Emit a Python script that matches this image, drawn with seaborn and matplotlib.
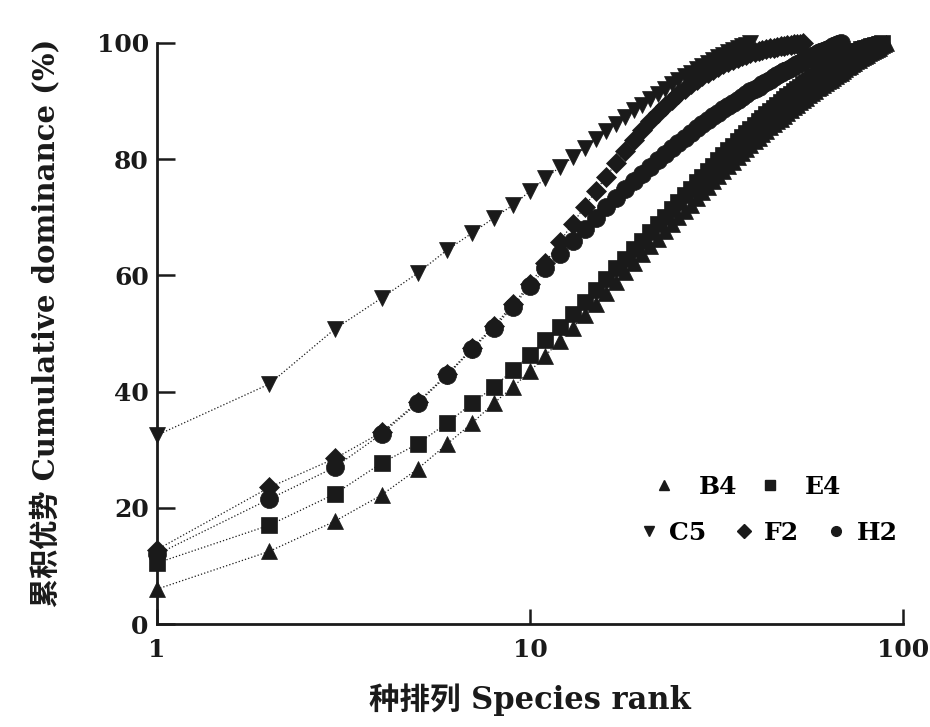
import matplotlib
matplotlib.use('Agg')
import matplotlib.pyplot as plt
from matplotlib.lines import Line2D
from matplotlib.ticker import NullLocator
import numpy as np
import pandas as pd
import seaborn as sns

# cumulative dominance (%) by species rank
b4 = [6.0, 12.5, 17.7, 22.2, 26.7, 31.0, 34.6, 38.0, 40.8, 43.5,
      46.2, 48.7, 51.0, 53.1, 55.1, 57.0, 58.8, 60.5, 62.1, 63.6,
      65.0, 66.3, 67.6, 68.8, 70.0, 71.1, 72.2, 73.3, 74.3, 75.3,
      76.2, 77.1, 78.0, 78.8, 79.6, 80.4, 81.1, 81.8, 82.5, 83.1,
      83.7, 84.3, 84.9, 85.5, 86.0, 86.5, 87.0, 87.5, 88.0, 88.5,
      89.0, 89.4, 89.8, 90.2, 90.6, 91.0, 91.4, 91.8, 92.2, 92.5,
      92.8, 93.1, 93.4, 93.7, 94.0, 94.3, 94.6, 94.9, 95.2, 95.5,
      95.8, 96.1, 96.4, 96.6, 96.9, 97.1, 97.4, 97.6, 97.8, 98.0,
      98.2, 98.4, 98.6, 98.8, 99.0, 99.2, 99.4, 99.6, 99.8, 100.0]
e4 = [10.5, 17.0, 22.4, 27.7, 31.0, 34.6, 38.0, 40.8, 43.7, 46.3,
      48.8, 51.2, 53.4, 55.5, 57.5, 59.4, 61.2, 62.9, 64.5, 66.0,
      67.4, 68.8, 70.1, 71.4, 72.6, 73.8, 74.9, 76.0, 77.0, 78.0,
      78.9, 79.8, 80.7, 81.5, 82.3, 83.1, 83.8, 84.5, 85.2, 85.9,
      86.5, 87.1, 87.7, 88.3, 88.8, 89.3, 89.8, 90.3, 90.8, 91.3,
      91.7, 92.1, 92.5, 92.9, 93.3, 93.7, 94.1, 94.4, 94.7, 95.0,
      95.3, 95.6, 95.9, 96.2, 96.5, 96.7, 97.0, 97.2, 97.4, 97.6,
      97.8, 98.0, 98.2, 98.4, 98.6, 98.7, 98.9, 99.0, 99.1, 99.2,
      99.3, 99.4, 99.5, 99.6, 99.7, 99.8, 99.9, 100.0]
c5 = [32.5, 41.3, 50.8, 56.1, 60.4, 64.4, 67.3, 69.9, 72.1, 74.5,
      76.7, 78.6, 80.3, 81.9, 83.4, 84.8, 86.1, 87.3, 88.4, 89.4,
      90.4, 91.3, 92.1, 92.9, 93.6, 94.3, 94.9, 95.5, 96.1, 96.6,
      97.1, 97.6, 98.0, 98.4, 98.8, 99.1, 99.4, 99.7, 100.0]
f2 = [12.8, 23.5, 28.5, 33.0, 38.2, 43.0, 47.5, 51.3, 55.0, 58.5,
      62.2, 65.7, 68.9, 71.8, 74.5, 77.0, 79.3, 81.4, 83.3, 85.0,
      86.5, 87.9, 89.1, 90.2, 91.2, 92.1, 92.9, 93.6, 94.3, 94.9,
      95.4, 95.9, 96.3, 96.7, 97.1, 97.4, 97.7, 98.0, 98.2, 98.4,
      98.6, 98.8, 99.0, 99.1, 99.2, 99.3, 99.4, 99.5, 99.6, 99.7,
      99.8, 99.85, 99.9, 100.0]
h2 = [12.0, 21.5, 27.0, 32.7, 38.0, 42.8, 47.3, 51.0, 54.6, 58.2,
      61.2, 63.7, 66.0, 68.0, 69.9, 71.7, 73.3, 74.8, 76.2, 77.5,
      78.7, 79.8, 80.9, 81.9, 82.8, 83.7, 84.5, 85.3, 86.0, 86.7,
      87.4, 88.0, 88.6, 89.2, 89.7, 90.2, 90.7, 91.2, 91.7, 92.1,
      92.5, 92.9, 93.3, 93.7, 94.1, 94.5, 94.8, 95.1, 95.4, 95.7,
      96.0, 96.3, 96.6, 96.9, 97.2, 97.5, 97.8, 98.0, 98.2, 98.4,
      98.6, 98.8, 99.0, 99.2, 99.4, 99.6, 99.8, 100.0]

plots = ['B4', 'E4', 'C5', 'F2', 'H2']
values = {'B4': b4, 'E4': e4, 'C5': c5, 'F2': f2, 'H2': h2}
marks = {'B4': '^', 'E4': 's', 'C5': 'v', 'F2': 'D', 'H2': 'o'}
msize = {'B4': 12, 'E4': 12, 'C5': 12, 'F2': 10, 'H2': 13}

sns.set_theme(style='ticks')
plt.rcParams['font.family'] = ['DejaVu Serif', 'Noto Sans CJK SC']
plt.rcParams['font.weight'] = 'bold'
plt.rcParams['text.color'] = 'black'

fig = plt.figure(figsize=(9.3, 7.27), dpi=100)
ax = fig.add_axes([157/930, 1-624/727, (903-157)/930, (624-43)/727])

for p in plots:
    df = pd.DataFrame({'rank': np.arange(1, len(values[p]) + 1), 'dom': values[p]})
    sns.lineplot(data=df, x='rank', y='dom', ax=ax, color='k', lw=0.9, ls=':',
                 marker=marks[p], markersize=msize[p], markeredgecolor='k',
                 markeredgewidth=0.5, clip_on=False)

ax.set_xscale('log')
ax.set_xlim(1, 100)
ax.set_ylim(0, 100)
ax.set_xticks([1, 10, 100])
ax.set_xticklabels(['1', '10', '100'])
ax.xaxis.set_minor_locator(NullLocator())
ax.set_yticks([0, 20, 40, 60, 80, 100])
ax.tick_params(axis='both', direction='in', colors='k', labelsize=18, width=1.8)
ax.tick_params(axis='x', length=11, pad=10)
ax.tick_params(axis='y', length=13, pad=6)
for lab in ax.get_xticklabels() + ax.get_yticklabels():
    lab.set_fontweight('bold')
ax.set_xlabel('')
ax.set_ylabel('')
sns.despine(ax=ax)
for s in ['left', 'bottom']:
    ax.spines[s].set_linewidth(2)
    ax.spines[s].set_color('k')

fig.text(45/930, 1-323/727, '累积优势 Cumulative dominance (%)', rotation=90,
         ha='center', va='center', fontsize=21, fontweight='bold', color='k')
fig.text(530/930, 1-700/727, '种排列 Species rank', ha='center', va='center',
         fontsize=22, fontweight='bold', color='k')

def handle(p):
    return Line2D([0], [0], color='k', ls='none', marker=marks[p], markersize=7)

leg1 = ax.legend([handle('B4'), handle('E4')], ['B4', 'E4'], ncol=2, frameon=False,
                 loc='center', bbox_to_anchor=(746/930, 1-487/727),
                 bbox_transform=fig.transFigure, prop={'size': 18, 'weight': 'bold'},
                 handletextpad=0.9, columnspacing=0.8, handlelength=1)
ax.add_artist(leg1)
ax.legend([handle('C5'), handle('F2'), handle('H2')], ['C5', 'F2', 'H2'], ncol=3,
          frameon=False, loc='center', bbox_to_anchor=(767/930, 1-533/727),
          bbox_transform=fig.transFigure, prop={'size': 18, 'weight': 'bold'},
          handletextpad=0.3, columnspacing=1.0, handlelength=1)

fig.savefig('out.png', dpi=100)
